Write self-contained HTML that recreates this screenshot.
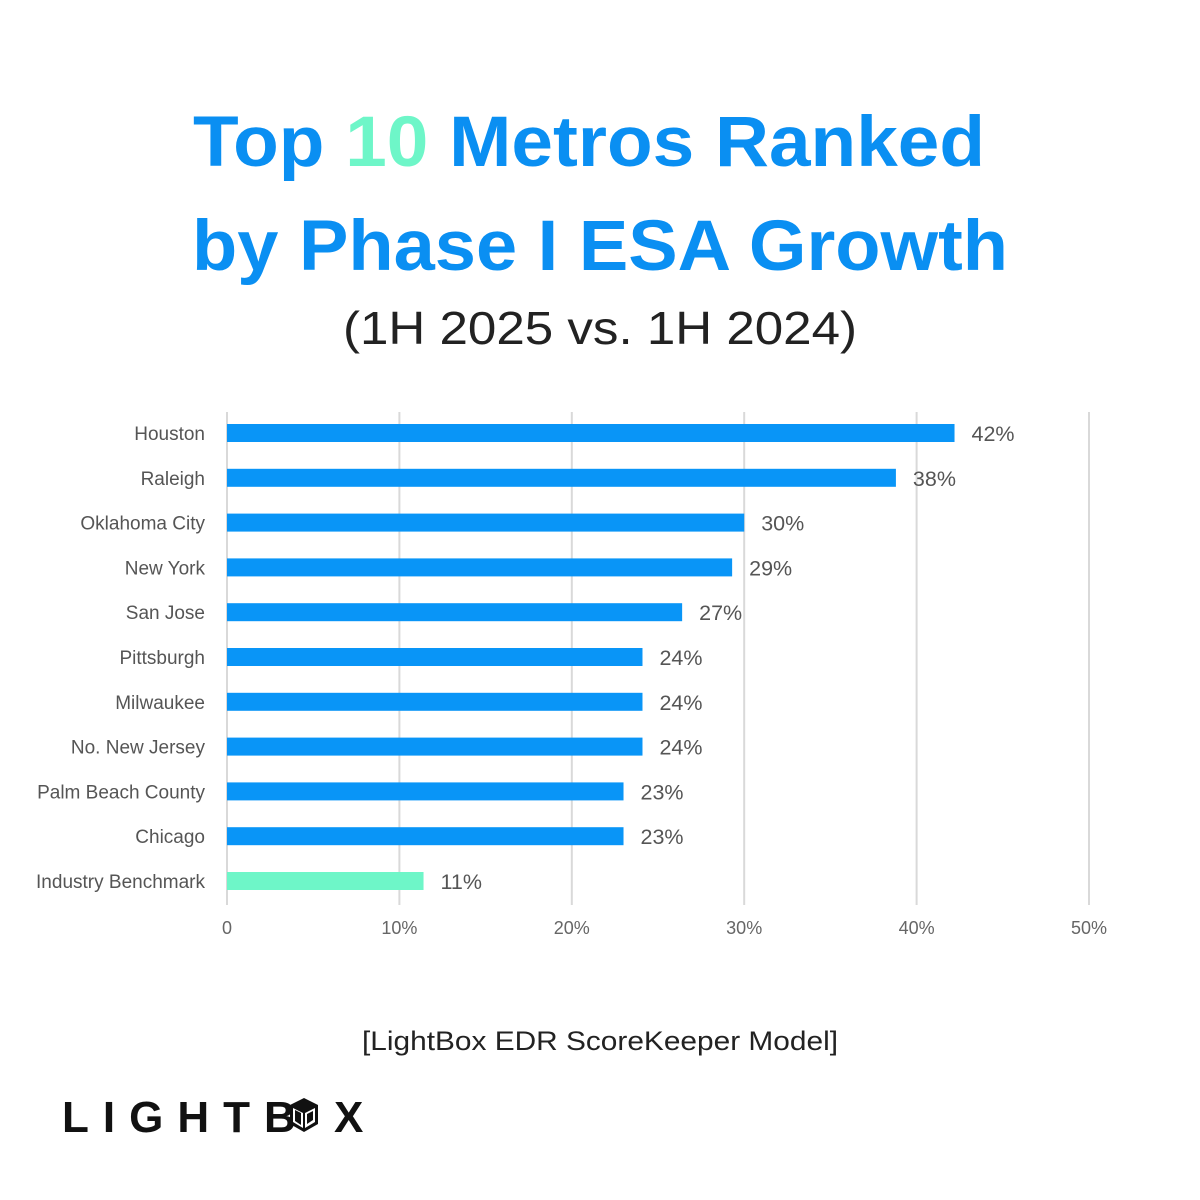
<!DOCTYPE html>
<html><head><meta charset="utf-8">
<style>
html,body{margin:0;padding:0;background:#fff;}
svg{display:block;font-family:"Liberation Sans",sans-serif;}
</style></head>
<body>
<svg id="chart" width="1200" height="1200" viewBox="0 0 1200 1200" xmlns="http://www.w3.org/2000/svg">
<rect width="1200" height="1200" fill="#fff"/>
<text x="193" y="166" font-size="71" font-weight="bold" fill="#0a8ff2" textLength="792" lengthAdjust="spacingAndGlyphs">Top <tspan fill="#6ef6c8">10</tspan> Metros Ranked</text>
<text x="192" y="270" font-size="71" font-weight="bold" fill="#0a8ff2" textLength="816" lengthAdjust="spacingAndGlyphs">by Phase I ESA Growth</text>
<text x="343" y="344" font-size="46" fill="#222" textLength="514" lengthAdjust="spacingAndGlyphs">(1H 2025 vs. 1H 2024)</text>
<g id="grid"></g>
<g id="bars"></g>
<g id="xaxis"></g>
<text x="362" y="1050" font-size="27" fill="#222" textLength="476" lengthAdjust="spacingAndGlyphs">[LightBox EDR ScoreKeeper Model]</text>
<g>
<text x="62" y="1132" font-size="44" fill="#111" font-weight="600" letter-spacing="14">LIGHTB</text>
<g transform="translate(290,1098)">
<polygon points="14,0 28,7 28,26 14,34 0,26 0,7" fill="#111"/>
<polygon points="3,10 13,15 13,30 3,24" fill="#fff"/>
<polygon points="15,15 25,10 25,24 15,30" fill="#fff"/>
<polygon points="5,12 11,15 11,27 5,23" fill="#111"/>
<polygon points="17,16 23,13 23,22 17,26" fill="#111"/>
</g>
<text x="334" y="1132" font-size="44" fill="#111" font-weight="600">X</text>
</g>
</svg>
<script>
const categories = ["Houston","Raleigh","Oklahoma City","New York","San Jose","Pittsburgh","Milwaukee","No. New Jersey","Palm Beach County","Chicago","Industry Benchmark"];
const values = [42.2,38.8,30.0,29.3,26.4,24.1,24.1,24.1,23.0,23.0,11.4];
const valueLabels = ["42%","38%","30%","29%","27%","24%","24%","24%","23%","23%","11%"];
const ticks = [0,10,20,30,40,50];
const tickLabels = ["0","10%","20%","30%","40%","50%"];
const NS="http://www.w3.org/2000/svg";
const x0=227, pxPer=17.24, y0=433, step=44.8, barH=18;
const xs=v=>x0+v*pxPer;
const ys=i=>y0+i*step;
function mk(tag,attrs,parent,txt){const e=document.createElementNS(NS,tag);for(const k in attrs)e.setAttribute(k,attrs[k]);if(txt!==undefined)e.textContent=txt;parent.appendChild(e);return e;}
const grid=document.getElementById('grid'), bars=document.getElementById('bars'), xa=document.getElementById('xaxis');
ticks.forEach((t,i)=>{
  const l=mk('line',{x1:xs(t),x2:xs(t),y1:412,y2:905,stroke:'#d9d9d9','stroke-width':2},grid);
  
  
  const tx=mk('text',{x:xs(t),y:934,'font-size':18,fill:'#666','text-anchor':'middle'},xa,tickLabels[i]);
  
  
});
categories.forEach((c,i)=>{
  const y=ys(i);
  const r=mk('rect',{x:x0,y:y-barH/2,width:xs(values[i])-x0,height:barH,fill:i===categories.length-1?'#6ef6c8':'#0995f7'},bars);
  
  
  const lb=mk('text',{x:205,y:y+7,'font-size':19,fill:'#555','text-anchor':'end'},bars,c);
  
  
  const vl=mk('text',{x:xs(values[i])+17,y:y+8,'font-size':21.5,fill:'#555'},bars,valueLabels[i]);
  
  
});
</script>
</body></html>
